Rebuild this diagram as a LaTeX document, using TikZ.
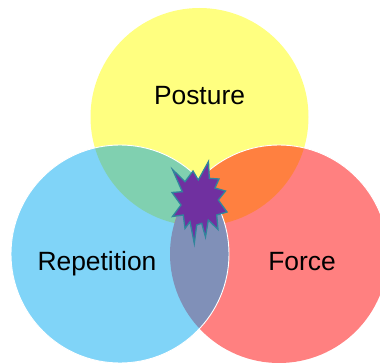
\documentclass[tikz,border=0pt]{standalone}
\usepackage{fontspec}
\setmainfont{Liberation Sans}
\definecolor{cyellow}{HTML}{FFFF80}
\definecolor{cblue}{HTML}{80D4F8}
\definecolor{cred}{HTML}{FF8080}
\definecolor{cgreen}{HTML}{80D0B0}
\definecolor{corange}{HTML}{FF8040}
\definecolor{cslate}{HTML}{8090B8}
\definecolor{cstarfill}{HTML}{7030A0}
\definecolor{cstaredge}{HTML}{31859C}
\tikzset{
  disc/.style={draw=white,line width=0.9pt},
  lbl/.style={font=\fontsize{26.4}{30}\selectfont,text=black,inner sep=0pt,anchor=base},
}
\def\Rad{109}
\begin{document}
\begin{tikzpicture}[x=1pt,y=-1pt]
\useasboundingbox (0,0) rectangle (380,363);
\clip (0,0) rectangle (380,363);
\coordinate (P) at (199.5,117);
\coordinate (R) at (120,254);
\coordinate (F) at (279,254);
\fill[cyellow] (P) circle (\Rad);
\fill[cred] (F) circle (\Rad);
\fill[cblue] (R) circle (\Rad);
\begin{scope}
  \clip (P) circle (\Rad);
  \fill[cgreen] (R) circle (\Rad);
  \fill[corange] (F) circle (\Rad);
\end{scope}
\begin{scope}
  \clip (R) circle (\Rad);
  \fill[cslate] (F) circle (\Rad);
\end{scope}
\draw[disc] (R) circle (\Rad);
\begin{scope}
  \clip (200,100) rectangle (380,240);
  \draw[disc] (F) circle (\Rad);
\end{scope}
\draw[cstaredge,fill=cstarfill,line width=1.3pt,line join=miter,miter limit=10]
  (172.5,169.5) -- (185,181.7) -- (193,171) -- (198.3,180) -- (208.5,161.5) -- (209.3,178.3)
  -- (219,179) -- (215,188) -- (225.5,191) -- (218.3,200) -- (227,212) -- (216.7,215)
  -- (218,229.5) -- (208.3,220) -- (205.5,237) -- (201.7,223.3) -- (196.7,225) -- (194.3,243.5)
  -- (190,221.7) -- (185,228.5) -- (183.3,215) -- (172.5,216.5) -- (181,205) -- (172,192.5) -- (182.3,191.7) -- cycle;
\node[lbl] (posture) at (199.5,105) {Posture};
\node[lbl] (repetition) at (97,271) {Repetition};
\node[lbl] (force) at (302,271) {Force};
\end{tikzpicture}
\end{document}
